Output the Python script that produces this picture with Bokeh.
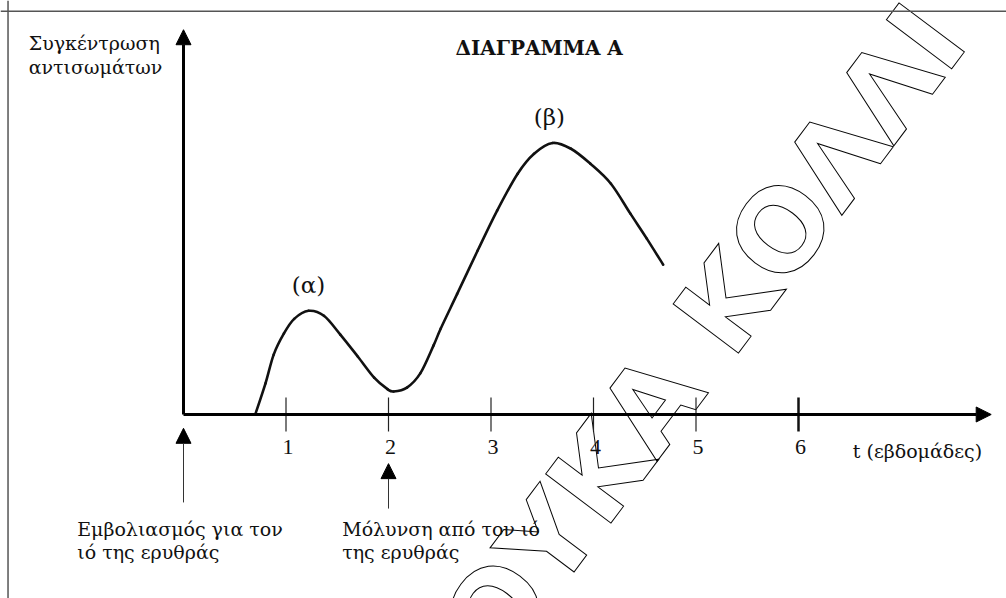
import numpy as np
from bokeh.plotting import figure
from bokeh.models import Range1d, Arrow, NormalHead, Span
from bokeh.core.properties import value
from bokeh.embed import file_html
from bokeh.resources import INLINE

# ---- data ----
weeks = [0.70, 0.80, 0.88, 0.98, 1.08, 1.22, 1.37, 1.53, 1.70, 1.86, 1.99, 2.05,
         2.18, 2.31, 2.44, 2.51, 2.67, 2.87, 3.06, 3.26, 3.42, 3.60, 3.78, 3.97,
         4.17, 4.36, 4.52, 4.68]
concentration = [0.0, 8.1, 15.6, 21.1, 24.9, 27.0, 25.7, 20.8, 15.1, 9.6, 6.6, 6.0,
                 7.0, 10.7, 18.0, 22.4, 31.4, 42.7, 53.1, 62.7, 67.9, 70.7, 69.2, 65.3,
                 60.1, 52.3, 45.8, 39.0]
tick_weeks = [1, 2, 3, 4, 5, 6]
tick_labels = ["1", "2", "3", "4", "5", "6"]
peak_labels = ["(α)", "(β)"]
peak_weeks = [1.22, 3.57]
event_weeks = [0, 2]
event_labels = [["Εμβολιασμός για τον", "ιό της ερυθράς"],
                ["Μόλυνση από τον ιό", "της ερυθράς"]]
y_label = ["Συγκέντρωση", "αντισωμάτων"]
x_label = "t (εβδομάδες)"
title = "ΔΙΑΓΡΑΜΜΑ Α"
watermark = "ΟΥΚΑ ΚΟΛΛΙ"

GREEK = value("DejaVu Serif")
DIGITS = value("Liberation Serif")
FS = "19px"
INK = "#111111"

p = figure(width=1006, height=598, output_backend="svg", toolbar_location=None,
           x_axis_type=None, y_axis_type=None,
           x_range=Range1d(-1.7854, 8.0293), y_range=Range1d(-47.92, 107.81),
           min_border=0, outline_line_color=None, background_fill_color="white",
           border_fill_color="white")
p.grid.visible = False

# watermark (drawn first, underneath everything)
p.text(x=[5.073], y=[20.83], text=[watermark], angle=0.927,
       text_font=value("DejaVu Sans"), text_font_style="bold",
       text_font_size="112px", text_align="center", text_baseline="middle",
       text_color="white", text_outline_color="black")

# frame lines (left and top)
p.add_layout(Span(location=-1.712, dimension="height", line_color="#555555", line_width=1.5))
p.add_layout(Span(location=105.03, dimension="width", line_color="#555555", line_width=1.5))

# axes with arrow heads
p.add_layout(Arrow(end=NormalHead(size=15, fill_color="black", line_color="black"),
                   x_start=0, y_start=0, x_end=0, y_end=100.2,
                   line_width=3, line_color="black"))
p.add_layout(Arrow(end=NormalHead(size=15, fill_color="black", line_color="black"),
                   x_start=0, y_start=0, x_end=7.88, y_end=0,
                   line_width=3, line_color="black"))

# ticks crossing the axis
p.scatter(tick_weeks[:-1], [0] * (len(tick_weeks) - 1), marker="dash", angle=np.pi / 2,
          size=34, line_width=1.2, line_color="#222222")
p.scatter(tick_weeks[-1:], [0], marker="dash", angle=np.pi / 2,
          size=34, line_width=2.5, line_color=INK)
p.text(x=[t + 0.02 for t in tick_weeks], y=[-8.4] * len(tick_weeks), text=tick_labels,
       text_font=DIGITS, text_font_size="22px", text_align="center",
       text_baseline="alphabetic", text_color=INK)
p.text(x=[6.53], y=[-9.4], text=[x_label], text_font=GREEK, text_font_size=FS,
       text_align="left", text_baseline="alphabetic", text_color=INK)

# curve (smooth cubic through read points)
x = np.array(weeks, dtype=float)
y = np.array(concentration, dtype=float)
xm = np.concatenate([[x[0]], x[:-2]]); ym = np.concatenate([[y[0]], y[:-2]])
xp = np.concatenate([x[2:], [x[-1]]]); yp = np.concatenate([y[2:], [y[-1]]])
x0, y0, x1, y1 = x[:-1], y[:-1], x[1:], y[1:]
cx0 = x0 + (x1 - xm) / 6.0; cy0 = y0 + (y1 - ym) / 6.0
cx1 = x1 - (xp - x0) / 6.0; cy1 = y1 - (yp - y0) / 6.0
p.bezier(x0=x0, y0=y0, x1=x1, y1=y1, cx0=cx0, cy0=cy0, cx1=cx1, cy1=cy1,
         line_width=2.6, line_color=INK, line_cap="round")

# peak labels
peak_vals = [max(c for w, c in zip(weeks, concentration) if abs(w - pw) < 0.2) for pw in peak_weeks]
p.text(x=peak_weeks, y=[v + 6.8 for v in peak_vals], text=peak_labels,
       text_font=GREEK, text_font_size="23px", text_align="center",
       text_baseline="middle", text_color=INK)

# event arrows below the axis
p.add_layout(Arrow(end=NormalHead(size=15, fill_color="black", line_color="black"),
                   x_start=event_weeks[0], y_start=-22.9, x_end=event_weeks[0], y_end=-3.6,
                   line_width=1, line_color="#333333"))
p.add_layout(Arrow(end=NormalHead(size=15, fill_color="black", line_color="black"),
                   x_start=event_weeks[1], y_start=-24.5, x_end=event_weeks[1], y_end=-12.8,
                   line_width=1, line_color="#333333"))

# event texts
p.text(x=[-1.037, -1.037], y=[-29.7, -35.7], text=event_labels[0], text_font=GREEK,
       text_font_size=FS, text_align="left", text_baseline="alphabetic", text_color=INK)
p.text(x=[1.548, 1.548], y=[-29.7, -35.7], text=event_labels[1], text_font=GREEK,
       text_font_size=FS, text_align="left", text_baseline="alphabetic", text_color=INK)

# y label
p.text(x=[-1.51, -1.51], y=[96.8, 90.6], text=y_label, text_font=GREEK,
       text_font_size=FS, text_align="left", text_baseline="alphabetic", text_color=INK)

# title
p.text(x=[3.47], y=[95.4], text=[title], text_font=GREEK, text_font_style="bold",
       text_font_size="20px", text_align="center", text_baseline="alphabetic",
       text_color=INK)

open("out.html", "w").write(file_html(p, INLINE))
